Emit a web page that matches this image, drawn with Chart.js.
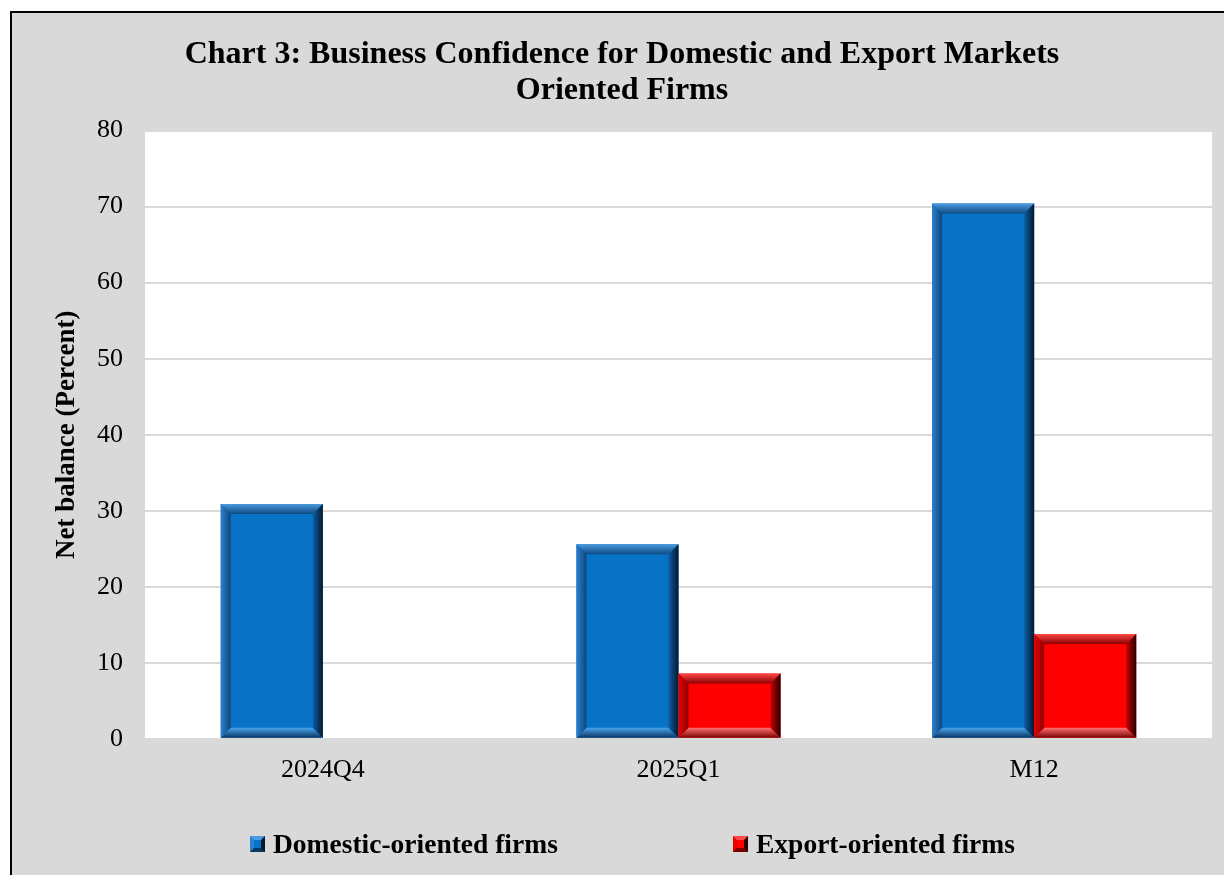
<!DOCTYPE html>
<html>
<head>
<meta charset="utf-8">
<script src="https://cdn.jsdelivr.net/npm/chart.js@4.4.3/dist/chart.umd.min.js"></script>
<style>
  html, body {
    margin: 0;
    padding: 0;
    background: #ffffff;
    overflow: hidden;
    width: 1224px;
    height: 875px;
  }
  #frame {
    position: absolute;
    left: 10px;
    top: 11px;
    width: 1240px;
    height: 900px;
    border-left: 2px solid #000;
    border-top: 2px solid #000;
    background: #d9d9d9;
  }
  #chart {
    position: absolute;
    left: 0;
    top: 0;
  }
  .legend-item {
    position: absolute;
    display: flex;
    align-items: center;
    font-family: "Liberation Serif", "Times New Roman", serif;
    font-weight: bold;
    font-size: 27.5px;
    color: #000;
    white-space: nowrap;
  }
  .legend-box {
    width: 7px;
    height: 8px;
    border-style: solid;
    border-width: 4px;
    margin-right: 8px;
  }
</style>
</head>
<body>
<div id="frame">
  <canvas id="chart" width="1220" height="862"></canvas>
</div>
<script>
const categories = ["2024Q4", "2025Q1", "M12"];
const domesticValues = [30.9, 25.6, 70.4];
const exportValues = [null, 8.6, 13.8];
const seriesNames = ["Domestic-oriented firms", "Export-oriented firms"];
const yTicks = [0, 10, 20, 30, 40, 50, 60, 70, 80];

const serif = "'Liberation Serif', 'Times New Roman', serif";

// bevel shades: [outer, inner] per side
const blueBevel = {
  face: "#0872c6",
  top: ["#4b9be0", "#0f4a82"],
  left: ["#2b80cf", "#0d4678"],
  right: ["#07182c", "#0a5ea6"],
  bottom: ["#0a355f", "#4aa3ec"],
};
const redBevel = {
  face: "#ff0000",
  top: ["#ff4a4a", "#8c0000"],
  left: ["#e80000", "#8c0000"],
  right: ["#2a0000", "#c40000"],
  bottom: ["#7a0000", "#ff7070"],
};

function fillPoly(ctx, pts, grad) {
  ctx.beginPath();
  ctx.moveTo(pts[0][0], pts[0][1]);
  for (let i = 1; i < pts.length; i++) {
    ctx.lineTo(pts[i][0], pts[i][1]);
  }
  ctx.closePath();
  ctx.fillStyle = grad;
  ctx.fill();
}

const plotBackground = {
  id: "plotBackground",
  beforeDraw(chart) {
    const { ctx, chartArea } = chart;
    ctx.save();
    ctx.fillStyle = "#ffffff";
    ctx.fillRect(
      chartArea.left,
      chartArea.top,
      chartArea.right - chartArea.left,
      chartArea.bottom - chartArea.top
    );
    ctx.restore();
  },
};

const bevelPlugin = {
  id: "bevel",
  afterDatasetsDraw(chart) {
    const ctx = chart.ctx;
    chart.data.datasets.forEach((dataset, di) => {
      const meta = chart.getDatasetMeta(di);
      const shade = dataset.bevel;
      meta.data.forEach((bar, i) => {
        if (dataset.data[i] == null) {
          return;
        }
        const { x, y, base, width } = bar.getProps(["x", "y", "base", "width"], true);
        const l = x - width / 2;
        const r = x + width / 2;
        const t = Math.min(y, base);
        const b = Math.max(y, base);
        const d = Math.min(10, width / 4, (b - t) / 3);
        ctx.save();
        let g = ctx.createLinearGradient(0, t, 0, t + d);
        g.addColorStop(0, shade.top[0]);
        g.addColorStop(1, shade.top[1]);
        fillPoly(ctx, [[l, t], [r, t], [r - d, t + d], [l + d, t + d]], g);
        g = ctx.createLinearGradient(0, b, 0, b - d);
        g.addColorStop(0, shade.bottom[0]);
        g.addColorStop(1, shade.bottom[1]);
        fillPoly(ctx, [[l, b], [r, b], [r - d, b - d], [l + d, b - d]], g);
        g = ctx.createLinearGradient(l, 0, l + d, 0);
        g.addColorStop(0, shade.left[0]);
        g.addColorStop(1, shade.left[1]);
        fillPoly(ctx, [[l, t], [l + d, t + d], [l + d, b - d], [l, b]], g);
        g = ctx.createLinearGradient(r, 0, r - d, 0);
        g.addColorStop(0, shade.right[0]);
        g.addColorStop(1, shade.right[1]);
        fillPoly(ctx, [[r, t], [r - d, t + d], [r - d, b - d], [r, b]], g);
        ctx.restore();
      });
    });
  },
};

const canvas = document.getElementById("chart");

const chart = new Chart(canvas, {
  type: "bar",
  data: {
    labels: categories,
    datasets: [
      {
        label: seriesNames[0],
        data: domesticValues,
        backgroundColor: blueBevel.face,
        borderWidth: 0,
        bevel: blueBevel,
      },
      {
        label: seriesNames[1],
        data: exportValues,
        backgroundColor: redBevel.face,
        borderWidth: 0,
        bevel: redBevel,
      },
    ],
  },
  options: {
    responsive: false,
    animation: false,
    devicePixelRatio: 1,
    layout: {
      padding: { top: 0, right: 20, bottom: 73, left: 20 },
    },
    datasets: {
      bar: {
        barPercentage: 1,
        categoryPercentage: 0.574,
      },
    },
    scales: {
      x: {
        grid: { display: false, drawTicks: false },
        border: { display: false },
        ticks: {
          color: "#000",
          padding: 16,
          maxRotation: 0,
          font: { family: serif, size: 26 },
        },
      },
      y: {
        min: 0,
        max: 80,
        afterFit(scale) {
          scale.width = 113;
        },
        afterBuildTicks(scale) {
          scale.ticks = yTicks.map((value) => ({ value }));
        },
        grid: {
          color: "#d9d9d9",
          lineWidth: 2,
          drawTicks: false,
        },
        border: { display: false },
        ticks: {
          color: "#000",
          padding: 22,
          font: { family: serif, size: 26 },
        },
        title: {
          display: true,
          text: "Net balance (Percent)",
          color: "#000",
          padding: { top: 19, bottom: 0 },
          font: { family: serif, size: 27, weight: "bold" },
        },
      },
    },
    plugins: {
      legend: { display: false },
      tooltip: { enabled: false },
      title: {
        display: true,
        text: [
          "Chart 3: Business Confidence for Domestic and Export Markets",
          "Oriented Firms",
        ],
        color: "#000",
        padding: { top: 23, bottom: 21 },
        font: { family: serif, size: 32, weight: "bold", lineHeight: 1.15 },
      },
    },
  },
  plugins: [plotBackground, bevelPlugin],
});

// legend built from the chart's datasets
const legendLefts = [238, 721];
chart.data.datasets.forEach((dataset, i) => {
  const item = document.createElement("div");
  item.className = "legend-item";
  item.style.left = `${legendLefts[i]}px`;
  item.style.top = "815px";
  const box = document.createElement("span");
  box.className = "legend-box";
  const shade = dataset.bevel;
  box.style.background = shade.face;
  box.style.borderTopColor = shade.top[0];
  box.style.borderLeftColor = shade.left[0];
  box.style.borderRightColor = shade.right[0];
  box.style.borderBottomColor = shade.bottom[0];
  const text = document.createElement("span");
  text.textContent = dataset.label;
  item.appendChild(box);
  item.appendChild(text);
  document.getElementById("frame").appendChild(item);
});
</script>
</body>
</html>
